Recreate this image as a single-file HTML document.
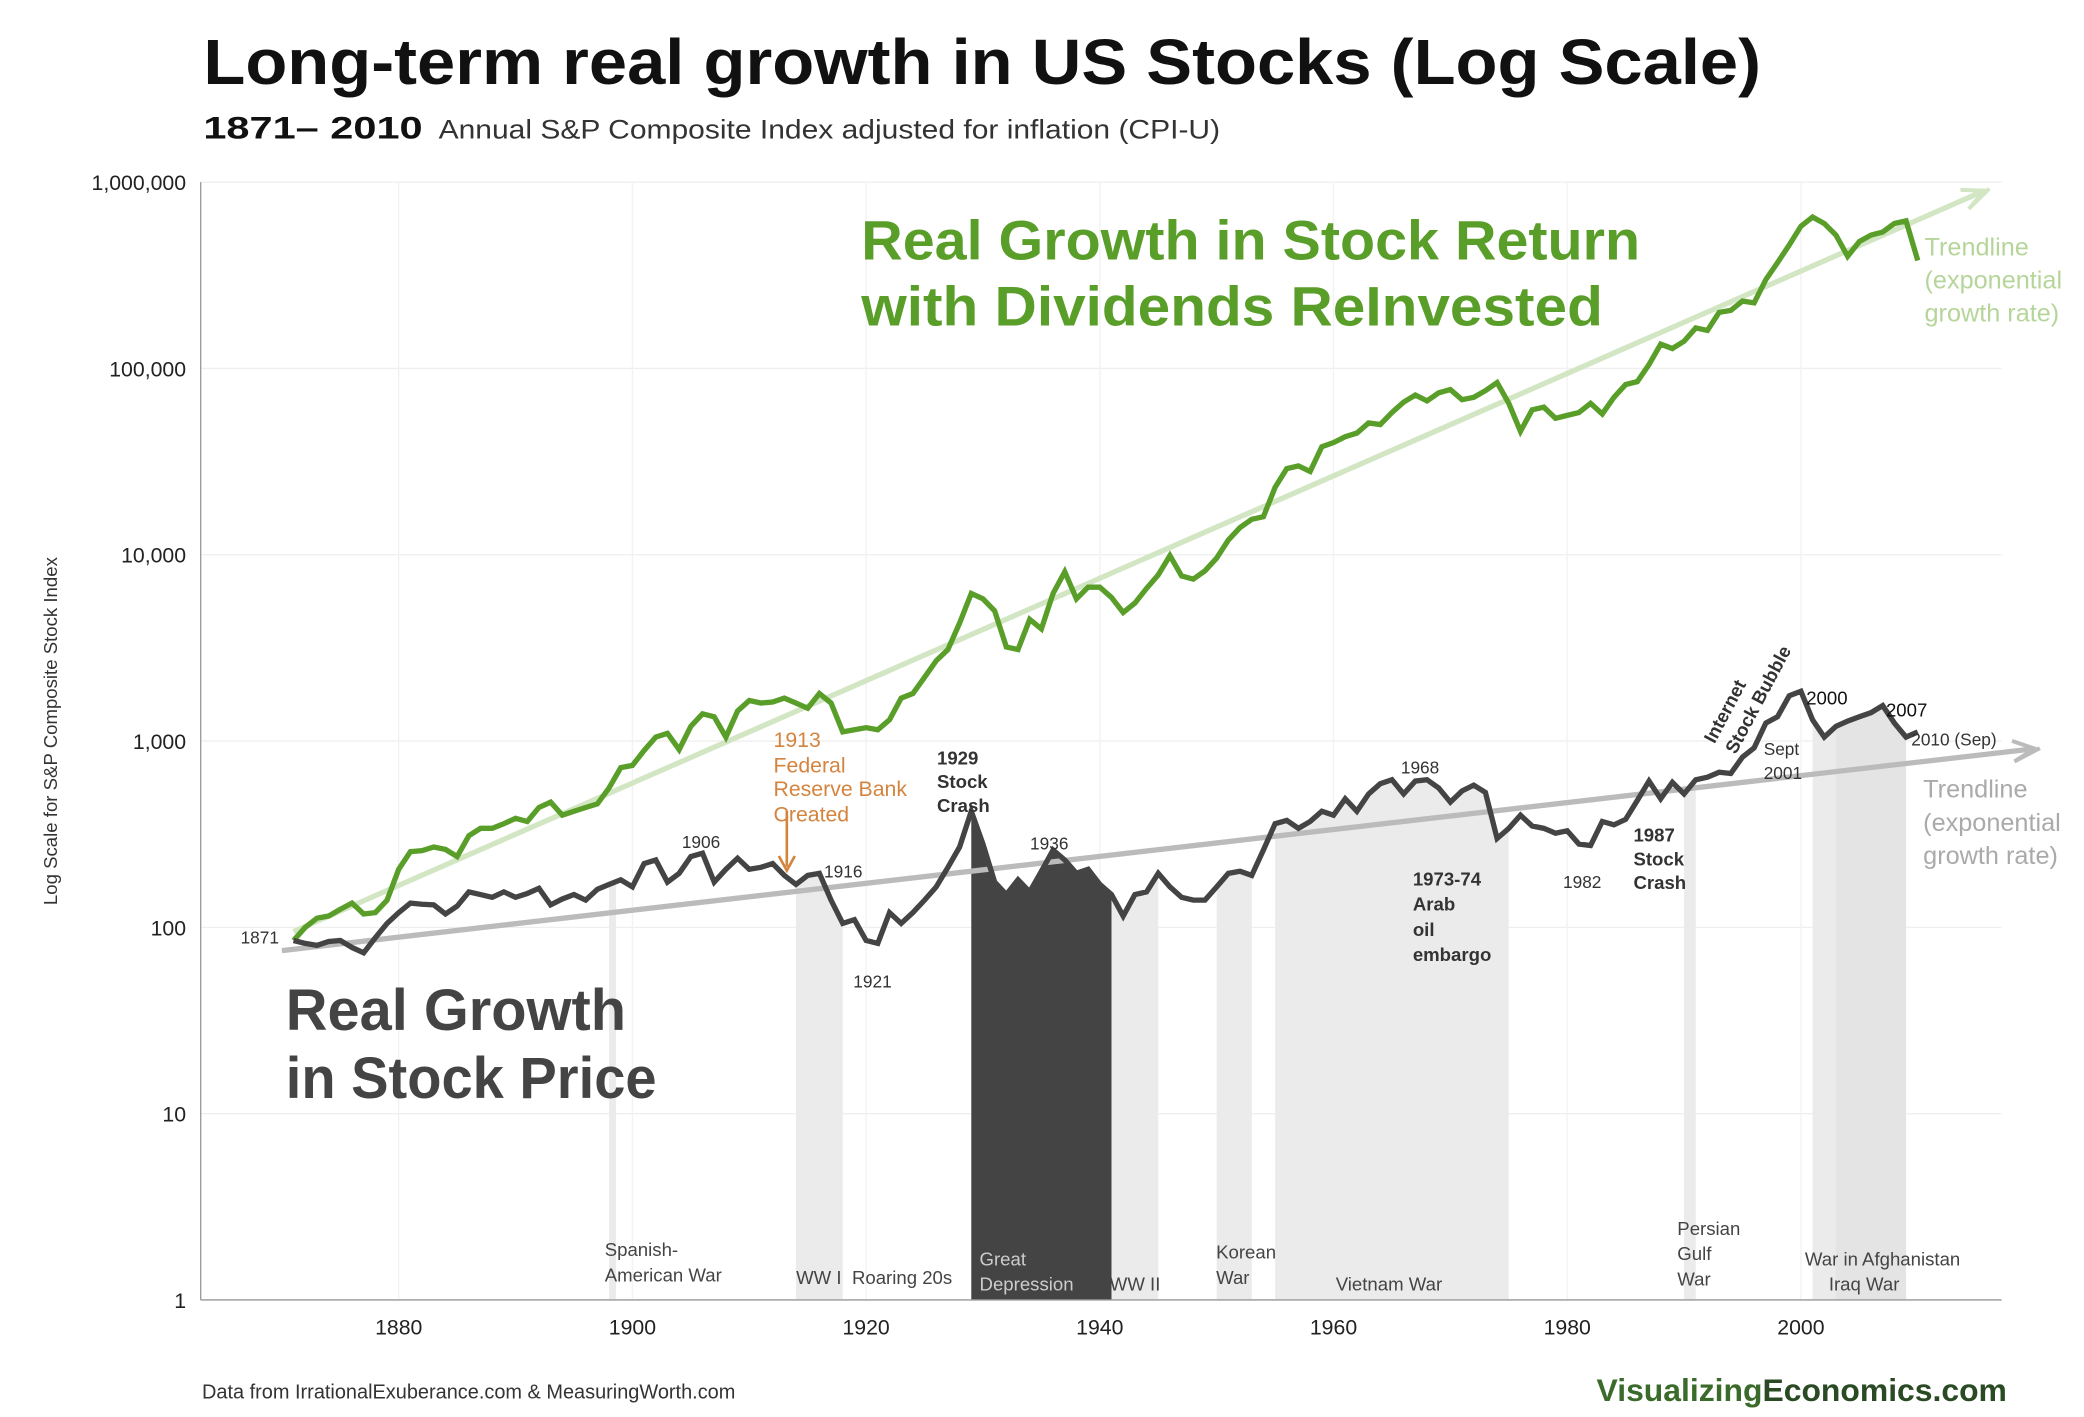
<!DOCTYPE html>
<html><head><meta charset="utf-8">
<style>
html,body{margin:0;padding:0;background:#fff;}
svg{display:block;font-family:"Liberation Sans",sans-serif;}
</style></head>
<body>
<svg id="chart" width="2084" height="1417" viewBox="0 0 1568 1066" xmlns="http://www.w3.org/2000/svg">
<rect width="1568" height="1066" fill="#fff"/>
<text x="153" y="63" font-size="48" font-weight="bold" fill="#111" textLength="1172" lengthAdjust="spacingAndGlyphs">Long-term real growth in US Stocks (Log Scale)</text>
<text x="153" y="104" font-size="24" font-weight="bold" fill="#111" textLength="165" lengthAdjust="spacingAndGlyphs">1871– 2010</text>
<text x="330" y="104" font-size="20" fill="#333" textLength="588" lengthAdjust="spacingAndGlyphs">Annual S&amp;P Composite Index adjusted for inflation (CPI-U)</text>
<g id="grid"></g>
<g id="shades"></g>
<g id="trends"></g>
<g id="series"></g>
<g id="axes"></g>
<text transform="translate(43,550) rotate(-90)" text-anchor="middle" font-size="14" fill="#333">Log Scale for S&amp;P Composite Stock Index</text>
<g font-weight="bold" fill="#5a9e2a" font-size="42">
<text x="648" y="195" textLength="586" lengthAdjust="spacingAndGlyphs">Real Growth in Stock Return</text>
<text x="648" y="245" textLength="558" lengthAdjust="spacingAndGlyphs">with Dividends ReInvested</text>
</g>
<g font-weight="bold" fill="#444" font-size="44">
<text x="215" y="775" textLength="256" lengthAdjust="spacingAndGlyphs">Real Growth</text>
<text x="215" y="826" textLength="279" lengthAdjust="spacingAndGlyphs">in Stock Price</text>
</g>
<g fill="#b5d59a" font-size="19">
<text x="1448" y="192">Trendline</text><text x="1448" y="217">(exponential</text><text x="1448" y="242">growth rate)</text>
</g>
<g fill="#aaa" font-size="19">
<text x="1447" y="600">Trendline</text><text x="1447" y="625">(exponential</text><text x="1447" y="650">growth rate)</text>
</g>
<g font-size="13" fill="#333">
<text x="181" y="710">1871</text>
<text x="513" y="638">1906</text>
<text x="620" y="660">1916</text>
<text x="642" y="743">1921</text>
<text x="775" y="639">1936</text>
<text x="1054" y="582">1968</text>
<text x="1176" y="668">1982</text>
<text x="1359" y="530" font-size="14" fill="#111">2000</text>
<text x="1419" y="539" font-size="14" fill="#111">2007</text>
<text x="1438" y="561">2010 (Sep)</text>
<text x="1327" y="568">Sept</text><text x="1327" y="586">2001</text>
<g font-weight="bold" font-size="14" fill="#333">
<text x="705" y="575">1929</text><text x="705" y="593">Stock</text><text x="705" y="611">Crash</text>
<text x="1229" y="633">1987</text><text x="1229" y="651">Stock</text><text x="1229" y="669">Crash</text>
<text x="1063" y="666">1973-74</text><text x="1063" y="685">Arab</text><text x="1063" y="704">oil</text><text x="1063" y="723">embargo</text>
<text transform="translate(1290,560) rotate(-62)">Internet</text>
<text transform="translate(1306,568) rotate(-62)">Stock Bubble</text>
</g>
<g fill="#d4843e" font-size="16">
<text x="582" y="562">1913</text><text x="582" y="581">Federal</text><text x="582" y="599">Reserve Bank</text><text x="582" y="618">Created</text>
</g>
<line x1="592" y1="610" x2="592" y2="652" stroke="#d4843e" stroke-width="2"/>
<polyline points="586,644 592,655 598,644" fill="none" stroke="#d4843e" stroke-width="2"/>
</g>
<g font-size="14" fill="#444">
<text x="455" y="945">Spanish-</text><text x="455" y="964">American War</text>
<text x="599" y="966">WW I</text>
<text x="641" y="966">Roaring 20s</text>
<text x="737" y="952" fill="#ccc">Great</text><text x="737" y="971" fill="#ccc">Depression</text>
<text x="835" y="971">WW II</text>
<text x="915" y="947">Korean</text><text x="915" y="966">War</text>
<text x="1005" y="971">Vietnam War</text>
<text x="1262" y="929">Persian</text><text x="1262" y="948">Gulf</text><text x="1262" y="967">War</text>
<text x="1358" y="952">War in Afghanistan</text>
<text x="1376" y="971">Iraq War</text>
</g>
<text x="152" y="1052" font-size="15" fill="#333">Data from IrrationalExuberance.com &amp; MeasuringWorth.com</text>
<text x="1510" y="1054" text-anchor="end" font-size="24" font-weight="bold" fill="#3a6b2a"><tspan>Visualizing</tspan><tspan fill="#2a4a24">Economics.com</tspan></text>
</svg>
<script>
const years = [];
for (let y = 1871; y <= 2010; y++) years.push(y);
const priceValues = [85,82,80,84,85,78,73,88,105,120,135,133,132,118,130,155,150,145,155,145,152,162,132,142,150,140,160,170,180,165,220,230,175,195,240,250,175,205,235,205,210,220,190,170,190,195,140,105,110,85,82,120,105,120,140,165,210,270,420,280,175,150,180,155,200,260,230,195,205,170,150,115,150,155,195,165,145,140,140,165,195,200,190,260,360,375,340,370,420,400,490,420,520,590,620,520,610,620,560,470,540,580,530,300,340,400,350,340,320,330,280,275,370,355,380,480,610,490,600,520,620,640,680,670,820,920,1250,1350,1750,1850,1300,1050,1200,1280,1350,1420,1550,1250,1050,1120];
const totalReturnValues = [85,100,112,115,125,135,118,120,140,205,255,258,270,262,240,310,340,340,360,385,370,440,470,400,420,440,460,560,720,740,890,1050,1100,900,1200,1400,1350,1050,1450,1650,1600,1620,1700,1600,1500,1800,1600,1120,1150,1180,1150,1300,1700,1800,2200,2700,3100,4300,6200,5800,5000,3200,3100,4500,4000,6200,8100,5800,6700,6700,5900,4900,5500,6600,7800,9900,7700,7400,8200,9600,12000,14000,15500,16000,23000,29000,30000,28000,38000,40000,43000,45000,51000,50000,58000,66000,72000,67000,74000,77000,68000,70000,76000,84000,65000,46000,60000,62000,54000,56000,58000,65000,57000,70000,82000,85000,105000,135000,128000,140000,165000,160000,200000,205000,230000,225000,300000,370000,460000,580000,650000,600000,520000,400000,480000,520000,540000,600000,620000,380000];
const yTickValues = [1,10,100,1000,10000,100000,1000000];
const yTickLabels = ["1","10","100","1,000","10,000","100,000","1,000,000"];
const xTickYears = [1880,1900,1920,1940,1960,1980,2000];
const eventStart = [1898,1914,1929,1941,1950,1955,1990,2001,2003];
const eventEnd = [1898.6,1918,1941,1945,1953,1975,1991,2009,2009];
const eventDark = [false,false,true,false,false,false,false,false,false];
const eventNames = ['spanish-american-war','ww1','great-depression','ww2','korean-war','vietnam-war','gulf-war','afghanistan-war','iraq-war'];
const greenTrendYears = [1871,2015.7];
const greenTrendValues = [95,900000];
const grayTrendYears = [1870,2020];
const grayTrendValues = [75,910];

const NS = 'http://www.w3.org/2000/svg';
const L = 151, R = 1506, T = 137, B = 978;
const xs = y => 300 + (y - 1880) * (1055 / 120);
const ys = v => B - Math.log10(v) * ((B - T) / 6);
function mk(tag, attrs, parent) { const e = document.createElementNS(NS, tag); for (const k in attrs) e.setAttribute(k, attrs[k]); parent.appendChild(e); return e; }

const grid = document.getElementById('grid');
yTickValues.forEach((v, i) => {
  const g = mk('line', {x1: L, x2: R, y1: ys(v), y2: ys(v), stroke: '#efefef', 'stroke-width': 1}, grid);
  
  
});
xTickYears.forEach(y => {
  const g = mk('line', {x1: xs(y), x2: xs(y), y1: T, y2: B, stroke: '#f2f2f2', 'stroke-width': 1}, grid);
  
  
});

const shades = document.getElementById('shades');
function valAt(yr) { const i = Math.floor(yr) - 1871; if (i >= years.length - 1) return priceValues[years.length - 1]; const f = yr - Math.floor(yr); return Math.exp(Math.log(priceValues[i]) * (1 - f) + Math.log(priceValues[i + 1]) * f); }
eventStart.forEach((s, k) => {
  const e = eventEnd[k];
  let pts = [[xs(s), B]];
  pts.push([xs(s), ys(valAt(s))]);
  for (let y = Math.ceil(s); y < e; y++) pts.push([xs(y), ys(valAt(y))]);
  pts.push([xs(e), ys(valAt(e))]);
  pts.push([xs(e), B]);
  const p = mk('polygon', {points: pts.map(q => q.join(',')).join(' '), fill: eventDark[k] ? '#444' : (k === 8 ? '#e4e4e4' : '#ebebeb')}, shades);
  
  
});

const trends = document.getElementById('trends');
const gt = mk('line', {x1: xs(greenTrendYears[0]), y1: ys(greenTrendValues[0]), x2: xs(greenTrendYears[1]), y2: ys(greenTrendValues[1]), stroke: '#d3e6c4', 'stroke-width': 4}, trends);


const grt = mk('line', {x1: xs(grayTrendYears[0]), y1: ys(grayTrendValues[0]), x2: xs(grayTrendYears[1]), y2: ys(grayTrendValues[1]), stroke: '#bbb', 'stroke-width': 4}, trends);


function arrow(x1, y1, x2, y2, col, name) {
  const a = Math.atan2(y2 - y1, x2 - x1), l = 18, w = 0.45;
  const pts = [[x2 + 4 * Math.cos(a), y2 + 4 * Math.sin(a)], [x2 - l * Math.cos(a - w), y2 - l * Math.sin(a - w)], [x2, y2], [x2 - l * Math.cos(a + w), y2 - l * Math.sin(a + w)]];
  const p = mk('polyline', {points: pts.map(q => q.join(',')).join(' '), fill: 'none', stroke: col, 'stroke-width': 3}, trends);
  
  
}
arrow(xs(greenTrendYears[0]), ys(greenTrendValues[0]), xs(greenTrendYears[1]), ys(greenTrendValues[1]), '#d3e6c4', 'green-trend-arrow');
arrow(xs(grayTrendYears[0]), ys(grayTrendValues[0]), xs(grayTrendYears[1]), ys(grayTrendValues[1]), '#bbb', 'gray-trend-arrow');

const series = document.getElementById('series');
const gl = mk('polyline', {points: years.map((y, i) => xs(y) + ',' + ys(totalReturnValues[i])).join(' '), fill: 'none', stroke: '#5a9e2a', 'stroke-width': 4, 'stroke-linejoin': 'miter'}, series);


const pl = mk('polyline', {points: years.map((y, i) => xs(y) + ',' + ys(priceValues[i])).join(' '), fill: 'none', stroke: '#444', 'stroke-width': 4}, series);



const axes = document.getElementById('axes');
const ya = mk('line', {x1: L, x2: L, y1: T, y2: B, stroke: '#999', 'stroke-width': 1}, axes);


const xa = mk('line', {x1: L, x2: R, y1: B, y2: B, stroke: '#999', 'stroke-width': 1}, axes);


yTickValues.forEach((v, i) => {
  const t = mk('text', {x: 140, y: ys(v) + 6, 'text-anchor': 'end', 'font-size': 16, fill: '#222'}, axes);
  t.textContent = yTickLabels[i];
  
  
});
xTickYears.forEach(y => {
  const t = mk('text', {x: xs(y), y: 1004, 'text-anchor': 'middle', 'font-size': 16, fill: '#222'}, axes);
  t.textContent = y;
  
  
});
</script>
</body></html>
